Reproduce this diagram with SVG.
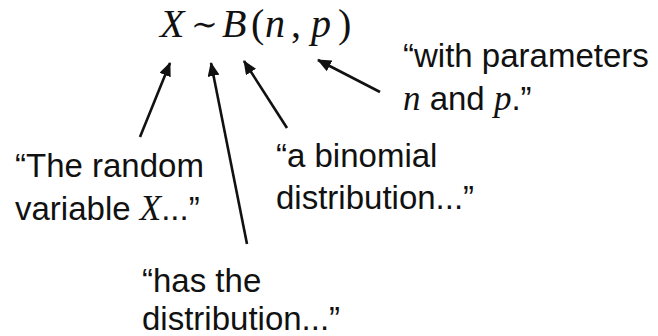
<svg xmlns="http://www.w3.org/2000/svg" width="658" height="336" viewBox="0 0 658 336">
<defs>
<style>
.t{font-family:"Liberation Sans","Arial",sans-serif;font-size:33px;fill:#111}
.m{font-family:"Liberation Serif","Times New Roman",serif;font-style:italic}
.f{font-family:"Liberation Serif","Times New Roman",serif;font-size:40px;fill:#111}
.c{stroke:#111;stroke-width:2.6;fill:none}
</style>
<marker id="ah" viewBox="0 0 14 12" refX="13" refY="6" markerWidth="14" markerHeight="12" markerUnits="userSpaceOnUse" orient="auto">
<path d="M0,0 L14,6 L0,12 Z" fill="#111"/>
</marker>
</defs>
<rect width="658" height="336" fill="#fff"/>
<g id="formula">
<text class="f" y="37"><tspan class="m" x="160">X</tspan><tspan x="191" font-family="DejaVu Serif" font-size="32" dy="-2">∼</tspan><tspan class="m" x="222" dy="2">B</tspan><tspan x="251">(</tspan><tspan class="m" x="265">n</tspan><tspan x="291">,</tspan><tspan class="m" x="311">p</tspan><tspan x="338">)</tspan></text>
</g>
<g id="label-x">
<text class="t" x="15" y="177">“The random</text>
<text class="t" x="15" y="220">variable <tspan class="m" font-size="35">X</tspan>...”</text>
</g>
<g id="label-has">
<text class="t" x="142" y="292">“has the</text>
<text class="t" x="142" y="330">distribution...”</text>
</g>
<g id="label-binomial">
<text class="t" x="276" y="167">“a binomial</text>
<text class="t" x="276" y="209">distribution...”</text>
</g>
<g id="label-params">
<text class="t" x="403" y="67">“with parameters</text>
<text class="t" x="403" y="110"><tspan class="m" font-size="35">n</tspan> and <tspan class="m" font-size="35">p</tspan>.”</text>
</g>
<g id="connectors">
<line class="c" x1="140" y1="137" x2="170" y2="63" marker-end="url(#ah)"/>
<line class="c" x1="247" y1="244" x2="211" y2="63" marker-end="url(#ah)"/>
<line class="c" x1="287" y1="128" x2="244" y2="61" marker-end="url(#ah)"/>
<line class="c" x1="380" y1="92" x2="318" y2="60" marker-end="url(#ah)"/>
</g>
</svg>
